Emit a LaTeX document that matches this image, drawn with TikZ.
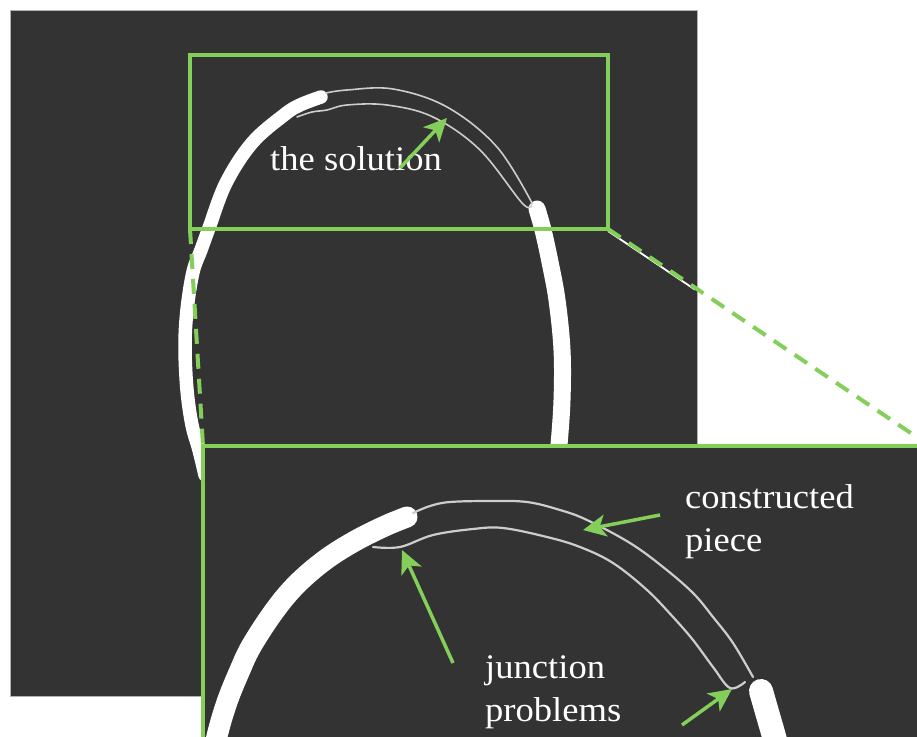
\documentclass[tikz,border=0pt]{standalone}
\usepackage{fontspec}
\newfontfamily\labfont[FakeStretch=1.06]{Liberation Serif}
\usetikzlibrary{arrows.meta,calc}
\definecolor{bg}{RGB}{51,51,51}
\definecolor{hl}{RGB}{132,206,90}
\definecolor{thinln}{RGB}{205,205,205}
\begin{document}
\begin{tikzpicture}[x=1pt,y=-1pt,
  stroke/.style={white,line width=#1,line cap=round,line join=round},
  thinline/.style={thinln,line width=#1,line cap=round,line join=round},
  frame/.style={hl,line width=3.5pt},
  zoomline/.style={hl,line width=4pt,dash pattern=on 15pt off 10pt},
  garrow/.style={hl,line width=3.5pt,-{Stealth[length=23pt,width=22pt,inset=6pt]}},
  lab/.style={white,inner sep=0pt,align=left,font=\labfont\fontsize{34.5}{43}\selectfont}]
\clip (0,0) rectangle (917,736);
\fill[white] (0,0) rectangle (917,736);
% original image
\fill[bg] (10,10) rectangle (697,696);
\draw[gray!60,line width=0.8pt] (10,10) rectangle (697,696);
% thick curve, left part
\draw[stroke=13.5pt] plot[smooth,tension=0.6] coordinates {(321,97) (300,105) (284,115) (252,143) (226,183) (209,228) (201,250) (193,272) (187,310) (185,347) (187,390) (192,425) (199,450) (205,475)};
% thick curve, right part
\draw[stroke=17pt] plot[smooth,tension=0.6] coordinates {(537,209) (543,230) (550,262) (557,300) (562,350) (562,400) (559,445) (556,475)};
% constructed piece (small)
\draw[thinline=1.6pt] plot[smooth,tension=0.6] coordinates {(326,93) (347,90) (393,89) (447,107) (497,147) (532,203)};
\draw[thinline=1.6pt] plot[smooth,tension=0.6] coordinates {(297,117) (312,112) (327,110) (347,105) (387,105) (433,117) (480,150) (523,204) (532,203)};
% small frame
\coordinate (stl) at (190,55);
\coordinate (sbr) at (608,229);
\coordinate (sbl) at (190,229);
\draw[frame] (stl) rectangle (sbr);
% zoom guide lines
\coordinate (btl) at (203,446);
\coordinate (btr) at (930,446);
\draw[white,line width=1.8pt] ([yshift=-2pt]sbr) -- ([yshift=-2pt]$(sbr)!0.27!(btr)$);
\draw[zoomline] (sbr) -- (btr);
\draw[zoomline] (sbl) -- (btl);
% magnified view
\fill[bg] (btl) rectangle (940,760);
\draw[hl,line width=3.5pt] (940,446) -- (btl) -- (203,760);
\draw[stroke=21pt] plot[smooth,tension=0.6] coordinates {(208,790) (215,745) (226,705) (240,670) (252,645) (275,610) (297,584) (325,560) (355,541) (385,526) (407,517)};
\draw[stroke=24pt] plot[smooth,tension=0.6] coordinates {(761,691) (767,712) (775,740) (780,760)};
\draw[thinline=2.2pt] plot[smooth,tension=0.6] coordinates {(413,513) (430,506) (450,502) (490,501) (527,502) (560,510) (587,520) (630,543) (663,567) (693,593) (713,617) (733,643) (753,677)};
\draw[thinline=2.2pt] plot[smooth,tension=0.6] coordinates {(373,547) (400,547) (433,535) (473,529) (503,528) (547,537) (580,547) (613,563) (647,590) (673,617) (693,640) (713,667) (730,688) (745,682)};
% labels
\node[lab,anchor=base west] (sol) at (270,170) {the solution};
\node[lab,anchor=base west] (cons) at (685,551) {constructed\\piece};
\node[lab,anchor=base west] (junc) at (485,721) {junction\\problems};
% arrows
\coordinate (a1s) at (400,168); \coordinate (a1e) at (447,118);
\coordinate (a2s) at (660,515); \coordinate (a2e) at (583,530);
\coordinate (a3s) at (453,663); \coordinate (a3e) at (402,550);
\coordinate (a4s) at (682,725); \coordinate (a4e) at (732,689);
\draw[garrow] (a1s) -- (a1e);
\draw[garrow] (a2s) -- (a2e);
\draw[garrow] (a3s) -- (a3e);
\draw[garrow] (a4s) -- (a4e);
\end{tikzpicture}
\end{document}
